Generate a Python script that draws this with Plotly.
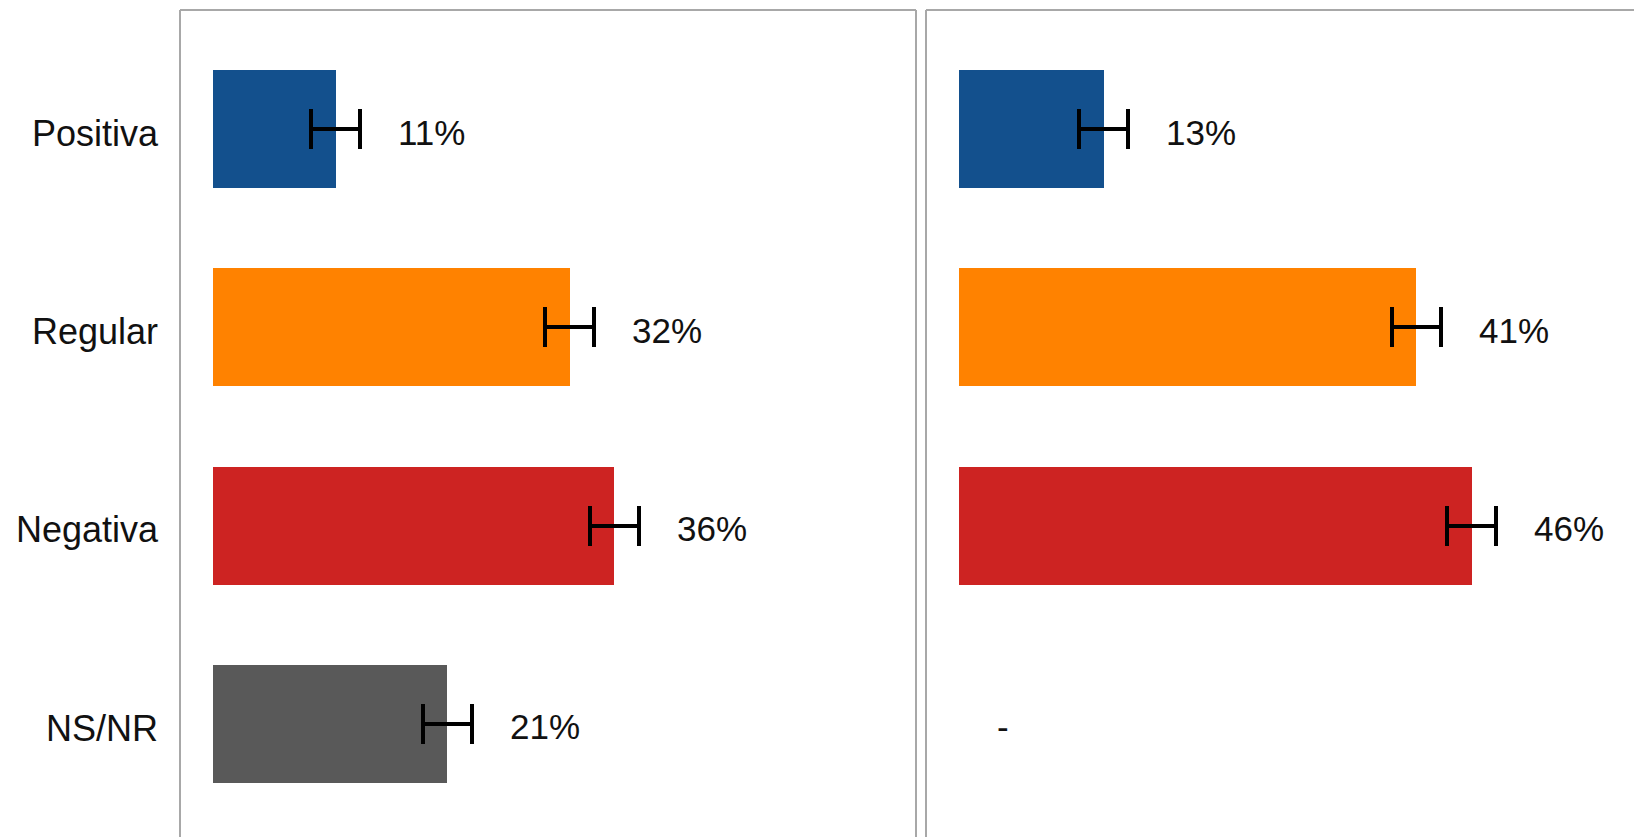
import plotly.graph_objects as go

categories = ["Positiva", "Regular", "Negativa", "NS/NR"]
left_values = [11, 32, 36, 21]
right_values = [13, 41, 46, None]
left_errors = [2.2, 2.2, 2.2, 2.2]
right_errors = [2.2, 2.2, 2.2, 0]
colors = ["#13508D", "#FF8200", "#CD2322", "#595959"]

# page body has an 8px default margin; work in page pixels and subtract it
OFF = 8
PAGE_W, PAGE_H = 1642, 837
W, H = PAGE_W - OFF, PAGE_H - OFF
ML, MT = 180 - OFF, 10 - OFF
PX_PER_PCT = 11.15
plot_w = W - ML
plot_h = H - MT

font_family = "Arial, 'Liberation Sans', sans-serif"

fig = go.Figure()

def label_text(v):
    return "-" if v is None else f"{v}%"

for vals, errs, xa, ya in [(left_values, left_errors, "x", "y"),
                           (right_values, right_errors, "x2", "y2")]:
    fig.add_trace(go.Bar(
        x=vals, y=categories, orientation="h",
        marker=dict(color=colors, line=dict(width=0)),
        width=0.595,
        error_x=dict(type="data", array=errs, visible=True,
                     color="black", thickness=4, width=20),
        xaxis=xa, yaxis=ya, showlegend=False, hoverinfo="skip",
    ))
    for c, v, e in zip(categories, vals, errs):
        fig.add_annotation(
            x=(v or 0) + (e if v is not None else 0), y=c,
            xref=xa, yref=ya, text=label_text(v),
            showarrow=False, xanchor="left", yanchor="middle",
            xshift=36, yshift=-3,
            font=dict(family=font_family, size=35, color="#111111"),
        )

# panel geometry (page pixels)
left_x0, left_x1 = 180, 916
right_x0 = 926
zero_off = 33

d1 = [(left_x0 - OFF - ML) / plot_w, (left_x1 - OFF - ML) / plot_w]
d2 = [(right_x0 - OFF - ML) / plot_w, 1.0]

r1 = [-zero_off / PX_PER_PCT, (left_x1 - left_x0 - zero_off) / PX_PER_PCT]
r2 = [-zero_off / PX_PER_PCT, (PAGE_W - right_x0 - zero_off) / PX_PER_PCT]

top_pad = 119 / 198.3
bottom_units = (plot_h - 119) / 198.3
yrange = [bottom_units, -top_pad]

common_x = dict(showgrid=False, zeroline=False, showticklabels=False,
                ticks="", showline=False, fixedrange=True)

fig.update_layout(
    width=W, height=H,
    margin=dict(l=ML, r=0, t=MT, b=0, pad=0),
    paper_bgcolor="white", plot_bgcolor="white",
    font=dict(family=font_family, size=36, color="#111111"),
    xaxis=dict(domain=d1, range=r1, **common_x),
    xaxis2=dict(domain=d2, range=r2, anchor="y2", **common_x),
    yaxis=dict(domain=[0, 1], range=yrange, type="category",
               categoryorder="array", categoryarray=categories,
               showgrid=False, zeroline=False, showline=False, ticks="",
               ticklabelstandoff=21, ticklabelshift=-4,
               tickfont=dict(family=font_family, size=36, color="#111111")),
    yaxis2=dict(domain=[0, 1], range=yrange, type="category",
                categoryorder="array", categoryarray=categories,
                anchor="x2", showgrid=False, zeroline=False, showline=False,
                showticklabels=False, ticks=""),
    bargap=0,
)

border = dict(color="#A8A8A8", width=2)
for xr, yr, coords in [
    ("x domain", "y domain", (0, 1, 1, 1)),
    ("x domain", "y domain", (0, 0, 0, 1)),
    ("x domain", "y domain", (1, 0, 1, 1)),
    ("x2 domain", "y2 domain", (0, 1, 1, 1)),
    ("x2 domain", "y2 domain", (0, 0, 0, 1)),
]:
    x0, y0, x1, y1 = coords
    fig.add_shape(type="line", xref=xr, yref=yr, x0=x0, y0=y0, x1=x1, y1=y1,
                  line=border, layer="above")

fig.write_html("out.html")
